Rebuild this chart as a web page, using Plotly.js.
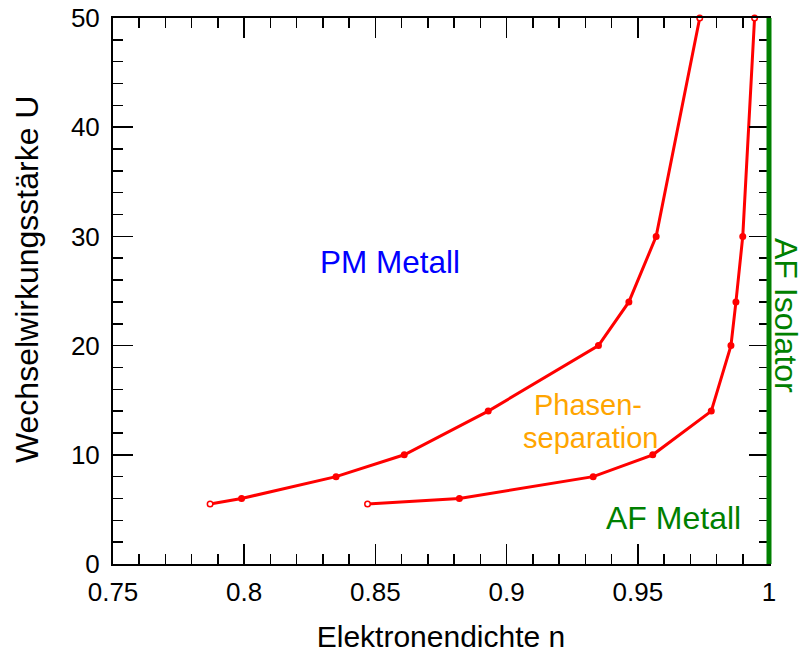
<!DOCTYPE html>
<html>
<head>
<meta charset="utf-8">
<script src="https://cdn.plot.ly/plotly-3.0.1.min.js"></script>
<style>html,body{margin:0;padding:0;background:#fff;}#chart{width:802px;height:655px;}</style>
</head>
<body>
<div id="chart"></div>
<script>
// Phase boundary: PM metal / phase separation
var n_pm = [0.787, 0.799, 0.835, 0.861, 0.893, 0.935, 0.9466, 0.957, 0.9736];
var u_pm = [5.5, 6, 8, 10, 14, 20, 24, 30, 50];
// Phase boundary: phase separation / AF metal
var n_af = [0.847, 0.882, 0.933, 0.9557, 0.978, 0.9855, 0.9874, 0.990, 0.9945];
var u_af = [5.5, 6, 8, 10, 14, 20, 24, 30, 50];
// AF insulator line at n = 1
var n_iso = [1, 1];
var u_iso = [0, 50];

var xRange = [0.75, 1];
var yRange = [0, 50];
var xTickVals = [0.75, 0.8, 0.85, 0.9, 0.95, 1];
var xTickText = ['0.75', '0.8', '0.85', '0.9', '0.95', '1'];
var yTickVals = [0, 10, 20, 30, 40, 50];
var yTickText = ['0', '10', '20', '30', '40', '50'];

var FONT = 'Liberation Sans, Arial, Helvetica, sans-serif';

function endFill(arr) {
  return arr.map(function (v, i) { return (i === 0 || i === arr.length - 1) ? '#ffffff' : '#ff0000'; });
}
function px(v) { return (v - xRange[0]) / (xRange[1] - xRange[0]); }
function py(v) { return (v - yRange[0]) / (yRange[1] - yRange[0]); }

var traces = [
  {
    x: n_pm, y: u_pm, mode: 'lines+markers', type: 'scatter',
    line: {color: '#ff0000', width: 3},
    marker: {size: 5.5, color: endFill(n_pm), line: {color: '#ff0000', width: 1.5}},
    cliponaxis: false
  },
  {
    x: n_af, y: u_af, mode: 'lines+markers', type: 'scatter',
    line: {color: '#ff0000', width: 3},
    marker: {size: 5.5, color: endFill(n_af), line: {color: '#ff0000', width: 1.5}},
    cliponaxis: false
  }
];

var layout = {
  width: 802, height: 655,
  margin: {l: 113, r: 33, t: 18, b: 91},
  paper_bgcolor: '#ffffff', plot_bgcolor: '#ffffff',
  showlegend: false,
  font: {family: FONT, color: '#000000', size: 26},
  xaxis: {
    range: xRange, autorange: false,
    tickvals: xTickVals, ticktext: xTickText,
    ticks: 'inside', ticklen: 20, tickwidth: 1.5, tickcolor: '#000',
    minor: {dtick: 0.01, tick0: 0.75, ticks: 'inside', ticklen: 10, tickwidth: 1.5, tickcolor: '#000', showgrid: false},
    showline: true, linewidth: 2, linecolor: '#000', mirror: 'ticks',
    showgrid: false, zeroline: false,
    tickfont: {size: 26, family: FONT},
    ticklabelstandoff: 4,
    title: {text: 'Elektronendichte n', font: {size: 30, family: FONT}, standoff: 20}
  },
  yaxis: {
    range: yRange, autorange: false,
    tickvals: yTickVals, ticktext: yTickText,
    ticks: 'inside', ticklen: 20, tickwidth: 1.5, tickcolor: '#000',
    minor: {dtick: 2, tick0: 0, ticks: 'inside', ticklen: 10, tickwidth: 1.5, tickcolor: '#000', showgrid: false},
    showline: true, linewidth: 2, linecolor: '#000', mirror: 'ticks',
    showgrid: false, zeroline: false,
    tickfont: {size: 26, family: FONT},
    ticklabelstandoff: 6
  },
  shapes: [
    {type: 'line', xref: 'paper', yref: 'paper',
     x0: px(n_iso[0]), x1: px(n_iso[1]), y0: py(u_iso[0]), y1: py(u_iso[1]),
     line: {color: '#008000', width: 5}, layer: 'above'}
  ],
  annotations: [
    {x: -0.131, y: 0.522, xref: 'paper', yref: 'paper', xanchor: 'center', yanchor: 'middle',
     text: 'Wechselwirkungsstärke U', showarrow: false,
     textangle: -90, font: {size: 32, color: '#000000', family: FONT}},
    {x: 0.8555, y: 27.7, xref: 'x', yref: 'y', text: 'PM Metall', showarrow: false,
     font: {size: 31.5, color: '#0000ff', family: FONT}},
    {x: 0.931, y: 14.6, xref: 'x', yref: 'y', text: 'Phasen-', showarrow: false,
     font: {size: 29, color: '#ffa500', family: FONT}},
    {x: 0.932, y: 11.5, xref: 'x', yref: 'y', text: 'separation', showarrow: false,
     font: {size: 29, color: '#ffa500', family: FONT}},
    {x: 0.9637, y: 4.2, xref: 'x', yref: 'y', text: 'AF Metall', showarrow: false,
     font: {size: 32, color: '#008000', family: FONT}},
    {x: 1, y: 22.8, xref: 'x', yref: 'y', xshift: 17, text: 'AF Isolator', showarrow: false, textangle: 90,
     font: {size: 32, color: '#008000', family: FONT}}
  ]
};

Plotly.newPlot('chart', traces, layout, {displayModeBar: false, staticPlot: true});
</script>
</body>
</html>
